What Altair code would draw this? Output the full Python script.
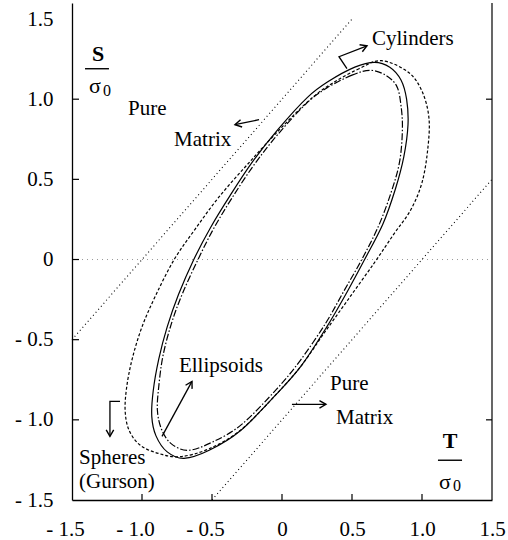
import altair as alt
import pandas as pd

FONT = "Liberation Serif"

# ---- yield curves (T/sigma0, S/sigma0) ----
cyl_T = [0.66, 0.52, 0.33, 0.18, -0.03, -0.21, -0.37, -0.51, -0.63, -0.74, -0.82, -0.88, -0.92, -0.93,
         -0.90, -0.82, -0.70, -0.52, -0.30, -0.04, 0.14, 0.32, 0.46, 0.59, 0.72, 0.81, 0.87, 0.90,
         0.89, 0.85, 0.77]
cyl_S = [1.23, 1.20, 1.11, 1.01, 0.81, 0.61, 0.40, 0.20, 0.00, -0.22, -0.42, -0.62, -0.82, -0.98,
         -1.10, -1.20, -1.24, -1.19, -1.07, -0.84, -0.66, -0.42, -0.21, 0.00, 0.22, 0.44, 0.64, 0.84,
         1.00, 1.12, 1.20]

ell_T = [0.63, 0.50, 0.32, 0.17, -0.03, -0.20, -0.36, -0.49, -0.60, -0.71, -0.79, -0.85, -0.88, -0.89,
         -0.86, -0.79, -0.67, -0.50, -0.29, -0.04, 0.13, 0.31, 0.44, 0.57, 0.69, 0.78, 0.84, 0.86,
         0.85, 0.82, 0.74]
ell_S = [1.18, 1.15, 1.07, 0.97, 0.78, 0.59, 0.38, 0.19, 0.00, -0.21, -0.40, -0.60, -0.79, -0.94,
         -1.06, -1.15, -1.19, -1.14, -1.03, -0.81, -0.63, -0.40, -0.20, 0.00, 0.21, 0.42, 0.61, 0.81,
         0.96, 1.08, 1.15]

gur_T = [0.71, 0.55, 0.36, 0.19, -0.04, -0.25, -0.45, -0.62, -0.77, -0.90, -1.00, -1.07, -1.11, -1.12,
         -1.09, -1.01, -0.88, -0.73, -0.52, -0.29, -0.03, 0.14, 0.30, 0.48, 0.66, 0.80, 0.92, 1.00,
         1.04, 1.05, 1.00, 0.90]
gur_S = [1.24, 1.19, 1.10, 0.99, 0.79, 0.59, 0.39, 0.19, 0.00, -0.22, -0.42, -0.62, -0.80, -0.95,
         -1.07, -1.16, -1.21, -1.23, -1.18, -1.06, -0.83, -0.66, -0.46, -0.24, -0.02, 0.16, 0.31, 0.48,
         0.68, 0.88, 1.05, 1.17]

# pure matrix limits
pm_up_T = [-1.5, 0.5]
pm_up_S = [-0.5, 1.5]
pm_lo_T = [-0.5, 1.5]
pm_lo_S = [-1.5, 0.5]

# axes
axis_values = [-1.5, -1.0, -0.5, 0.0, 0.5, 1.0, 1.5]
inner_ticks = [-1.0, -0.5, 0.0, 0.5, 1.0]
right_ticks = [-1.0, 1.0]
x_domain = [-1.5, 1.5]
y_domain = [-1.5, 1.6]

# annotations
label_texts = ["Cylinders", "Pure", "Matrix", "Pure", "Matrix", "Ellipsoids", "Spheres", "(Gurson)"]
label_T = [0.643, -1.10, -0.771, 0.343, 0.386, -0.736, -1.45, -1.45]
label_S = [1.377, 0.94, 0.748, -0.779, -0.99, -0.667, -1.236, -1.39]

frac_letters = ["S", "T"]
frac_T = [-1.314, 1.20]
frac_S = [1.283, -1.134]
sigma_T = [-1.336, 1.164]
sigma_S = [1.084, -1.39]
sub_T = [-1.25, 1.25]
sub_S = [1.053, -1.414]
bar_T = [-1.407, 1.114]
bar_T2 = [-1.236, 1.286]
bar_S = [1.19, -1.252]

arrow_ids = ["up", "up", "lo", "lo", "ell", "ell", "sph", "sph", "sph", "cyl", "cyl", "cyl"]
arrow_T = [-0.164, -0.336, 0.071, 0.314, -0.857, -0.643, -1.157, -1.229, -1.229, 0.464, 0.407, 0.607]
arrow_S = [0.872, 0.841, -0.903, -0.903, -1.103, -0.760, -0.885, -0.885, -1.103, 1.19, 1.265, 1.333]
head_T = [-0.336, 0.314, -0.643, -1.229, 0.607]
head_S = [0.841, -0.903, -0.760, -1.103, 1.333]
head_angle = [258, 90, 29, 180, 68]

xs = alt.Scale(domain=x_domain, nice=False, zero=False)
ys = alt.Scale(domain=y_domain, nice=False, zero=False)

label_expr = ("datum.value < 0 ? '- ' + format(-datum.value, '.1f') : "
              "(datum.value == 0 ? '0' : format(datum.value, '.1f'))")

x_axis = alt.Axis(values=axis_values, labelExpr=label_expr, ticks=False, grid=False,
                  domainColor="black", domainWidth=1.3, labelFont=FONT, labelFontSize=21,
                  labelColor="black", labelPadding=18, title=None, labelFlush=False,
                  labelOffset={"condition": {"test": "datum.value < 0", "value": -7}, "value": 0})
y_axis = alt.Axis(values=axis_values, labelExpr=label_expr, ticks=False, grid=False,
                  domainColor="black", domainWidth=1.3, labelFont=FONT, labelFontSize=21,
                  labelColor="black", labelPadding=19, title=None, labelFlush=False)


def xy(fx="T", fy="S"):
    return dict(x=alt.X(f"{fx}:Q", scale=xs, axis=x_axis),
                y=alt.Y(f"{fy}:Q", scale=ys, axis=y_axis))


def curve(T, S, dash=None):
    df = pd.DataFrame({"T": T, "S": S, "i": list(range(len(T)))})
    kw = dict(interpolate="cardinal-closed", color="black", strokeWidth=1.2)
    if dash:
        kw["strokeDash"] = dash
    return alt.Chart(df).mark_line(**kw).encode(order="i:Q", **xy())


cyl = curve(cyl_T, cyl_S)
ell = curve(ell_T, ell_S, dash=[7, 2, 1.5, 2])
gur = curve(gur_T, gur_S, dash=[3, 2])

pm_df = pd.DataFrame({"T": pm_up_T + pm_lo_T, "S": pm_up_S + pm_lo_S,
                      "g": ["u", "u", "l", "l"]})
pm = alt.Chart(pm_df).mark_line(color="black", strokeWidth=1.1, strokeDash=[1, 3]).encode(
    detail="g:N", **xy())

zero_df = pd.DataFrame({"S": [0.0], "T": [x_domain[0]], "T2": [x_domain[1]]})
zero = alt.Chart(zero_df).mark_rule(color="#999999", strokeWidth=1, strokeDash=[1, 4]).encode(
    x2="T2:Q", **xy())

right_df = pd.DataFrame({"T": [x_domain[1]], "S": [y_domain[0]], "S2": [y_domain[1]]})
right = alt.Chart(right_df).mark_rule(color="black", strokeWidth=1.2).encode(y2="S2:Q", **xy())

lt_df = pd.DataFrame({"T": [x_domain[0]] * len(inner_ticks), "S": inner_ticks})
left_ticks = alt.Chart(lt_df).mark_point(shape="M0,0L2,0", size=49, filled=False,
                                          color="black", strokeWidth=1.2, opacity=1).encode(**xy())
rt_df = pd.DataFrame({"T": [x_domain[1]] * len(right_ticks), "S": right_ticks})
r_ticks = alt.Chart(rt_df).mark_point(shape="M0,0L-2,0", size=36, filled=False,
                                      color="black", strokeWidth=1.2, opacity=1).encode(**xy())
bt_df = pd.DataFrame({"T": inner_ticks, "S": [y_domain[0]] * len(inner_ticks)})
b_ticks = alt.Chart(bt_df).mark_point(shape="M0,0L0,-2", size=36, filled=False,
                                      color="black", strokeWidth=1.2, opacity=1).encode(**xy())

lab_df = pd.DataFrame({"T": label_T, "S": label_S, "t": label_texts})
labels = alt.Chart(lab_df).mark_text(align="left", baseline="middle", font=FONT, fontSize=21,
                                     color="black").encode(text="t:N", **xy())

frac_df = pd.DataFrame({"T": frac_T, "S": frac_S, "t": frac_letters})
fracs = alt.Chart(frac_df).mark_text(align="center", baseline="middle", font=FONT, fontSize=22,
                                     fontWeight="bold", color="black").encode(text="t:N", **xy())
sig_df = pd.DataFrame({"T": sigma_T, "S": sigma_S, "t": ["σ", "σ"]})
sigs = alt.Chart(sig_df).mark_text(align="center", baseline="middle", font=FONT, fontSize=22,
                                   color="black").encode(text="t:N", **xy())
sub_df = pd.DataFrame({"T": sub_T, "S": sub_S, "t": ["0", "0"]})
subs = alt.Chart(sub_df).mark_text(align="center", baseline="middle", font=FONT, fontSize=16,
                                   color="black").encode(text="t:N", **xy())
bar_df = pd.DataFrame({"T": bar_T, "T2": bar_T2, "S": bar_S})
bars = alt.Chart(bar_df).mark_rule(color="black", strokeWidth=1.4).encode(x2="T2:Q", **xy())

arr_df = pd.DataFrame({"id": arrow_ids, "i": list(range(len(arrow_ids))), "T": arrow_T, "S": arrow_S})
arrows = alt.Chart(arr_df).mark_line(color="black", strokeWidth=1.3).encode(
    detail="id:N", order="i:Q", **xy())
head_df = pd.DataFrame({"T": head_T, "S": head_S, "a": head_angle})
heads = alt.Chart(head_df).mark_point(shape="M-0.75,1.3L0,0L0.75,1.3", size=100, filled=False,
                                      color="black", strokeWidth=1.4, opacity=1).encode(
    angle=alt.Angle("a:Q", scale=None), **xy())

chart = alt.layer(cyl, zero, pm, right, left_ticks, r_ticks, b_ticks, ell, gur,
                  labels, fracs, sigs, subs, bars, arrows, heads).properties(
    width=420, height=497,
    autosize=alt.AutoSizeParams(type="none"),
    padding={"left": 72, "top": 3, "right": 16, "bottom": 40},
    background="white",
).configure_view(stroke=None)

chart.save("out.html", embed_options={"renderer": "svg", "actions": False})
